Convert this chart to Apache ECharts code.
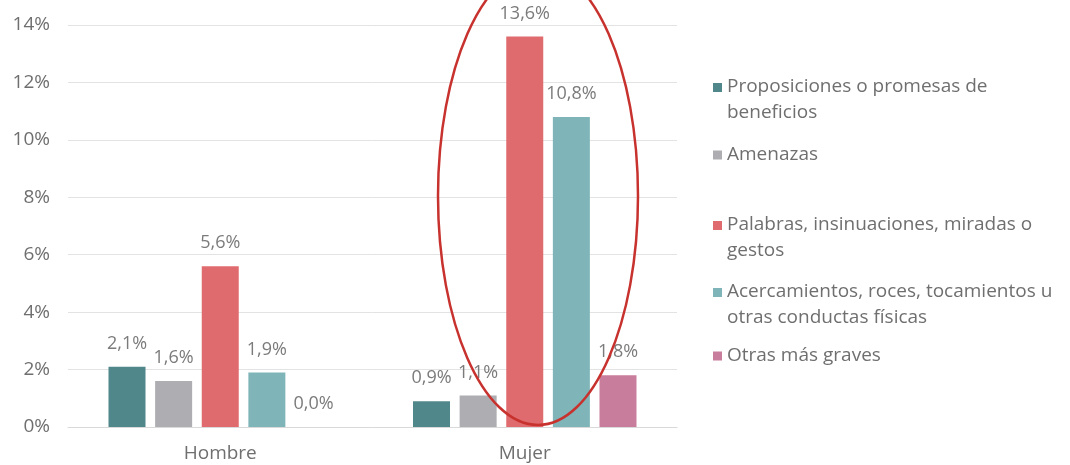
<!DOCTYPE html>
<html>
<head>
<meta charset="utf-8">
<script src="https://cdn.jsdelivr.net/npm/echarts@6/dist/echarts.min.js"></script>
<style>
  html, body { margin: 0; padding: 0; background: #ffffff; }
  #chart { width: 1070px; height: 465px; }
</style>
</head>
<body>
<div id="chart"></div>
<script>
// Categories on the x axis
const categories = ['Hombre', 'Mujer'];

// Series names (legend entries, with their line breaks)
const seriesNames = [
  'Proposiciones o promesas de\nbeneficios',
  'Amenazas',
  'Palabras, insinuaciones, miradas o\ngestos',
  'Acercamientos, roces, tocamientos u\notras conductas físicas',
  'Otras más graves'
];

// Percentages per series: [Hombre, Mujer]
const proposiciones = [2.1, 0.9];
const amenazas      = [1.6, 1.1];
const palabras      = [5.6, 13.6];
const acercamientos = [1.9, 10.8];
const otrasGraves   = [0.0, 1.8];

// Y axis ticks
const yTicks = [0, 2, 4, 6, 8, 10, 12, 14];

const seriesValues = [proposiciones, amenazas, palabras, acercamientos, otrasGraves];
const colors = ['#4f878a', '#adadb2', '#e06b6e', '#7fb5b8', '#c97d9c'];

const FONT = "'Open Sans', 'Noto Sans', sans-serif";
const FS = 19;
const fmt = v => v.toFixed(1).replace('.', ',') + '%';

// Legend: one block per entry, first line of each entry centred on these y values
const legendLineCenters = [87, 155, 225, 292, 356];
const LINE_H = 26;

const legends = seriesNames.map((name, i) => {
  const twoLines = name.indexOf('\n') >= 0;
  const h = twoLines ? 34 : 9;
  return {
    data: [name],
    left: 713,
    top: legendLineCenters[i] - LINE_H / 2,
    padding: 0,
    itemWidth: 9,
    itemHeight: h,
    // square sitting at the top of the item box, so it lines up with the first text line
    icon: twoLines ? 'path://M0,0H9V9H0Z M0,33.99H0.01V34H0Z' : 'rect',
    selectedMode: false,
    textStyle: {
      fontFamily: FONT,
      fontSize: FS,
      lineHeight: LINE_H,
      color: '#6f6f6f'
    }
  };
});

const chart = echarts.init(document.getElementById('chart'), null, { renderer: 'canvas' });

chart.setOption({
  animation: false,
  backgroundColor: '#ffffff',
  color: colors,
  legend: legends,
  grid: { left: 68, right: 393, top: 25, bottom: 38, containLabel: false },
  xAxis: {
    type: 'category',
    data: categories,
    axisLine: { show: true, lineStyle: { color: '#d9d9d9', width: 1 } },
    axisTick: { show: false },
    axisLabel: {
      fontFamily: FONT, fontSize: FS, color: '#6f6f6f', margin: 17
    }
  },
  yAxis: {
    type: 'value',
    min: yTicks[0],
    max: yTicks[yTicks.length - 1],
    interval: yTicks[1] - yTicks[0],
    axisLine: { show: false },
    axisTick: { show: false },
    splitLine: { lineStyle: { color: '#e3e3e3', width: 1 } },
    axisLabel: {
      fontFamily: FONT, fontSize: FS, color: '#6f6f6f', margin: 18,
      formatter: v => v + '%'
    }
  },
  series: seriesNames.map((name, i) => ({
    name: name,
    type: 'bar',
    data: seriesValues[i],
    barWidth: 37,
    barGap: '26%',
    itemStyle: { color: colors[i] },
    label: {
      show: true,
      position: 'top',
      distance: 14,
      fontFamily: FONT,
      fontSize: FS - 1,
      color: '#7b7b7b',
      formatter: p => fmt(p.value)
    }
  })),
  graphic: [{
    type: 'ellipse',
    z: 100,
    silent: true,
    shape: { cx: 538, cy: 196, rx: 100, ry: 229 },
    style: { fill: 'none', stroke: '#c8322e', lineWidth: 2.5 }
  }]
});
</script>
</body>
</html>
